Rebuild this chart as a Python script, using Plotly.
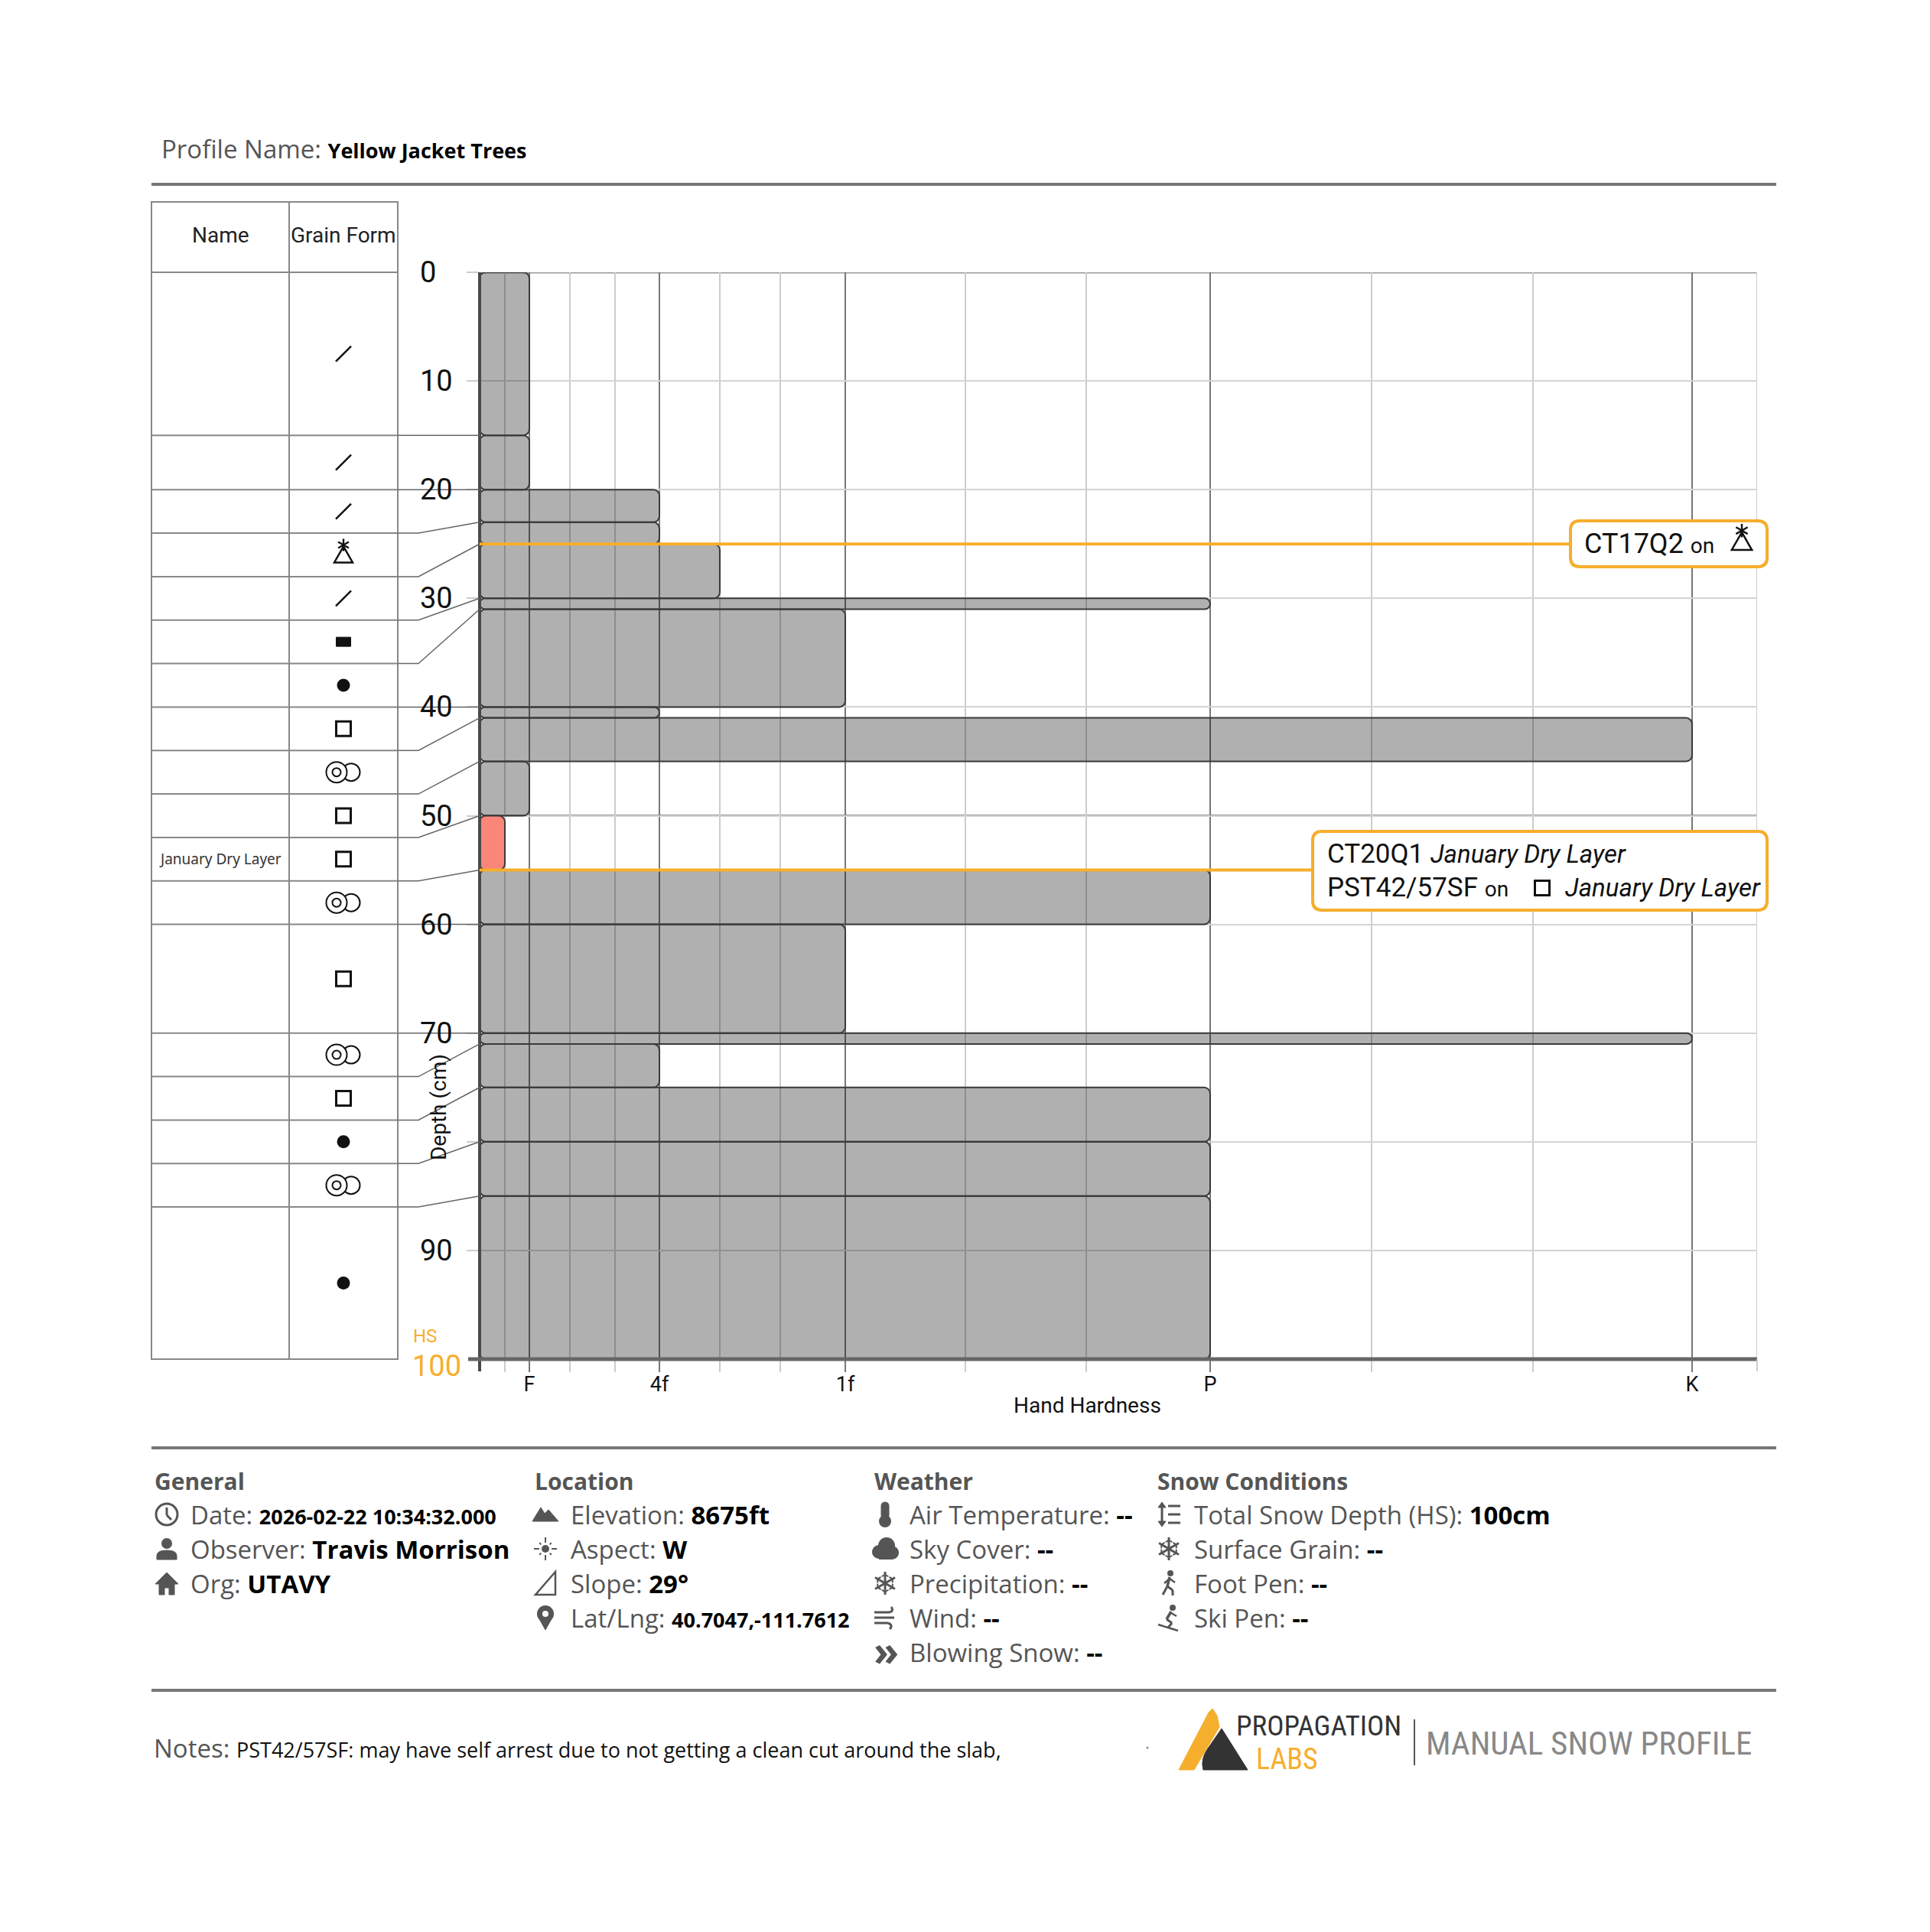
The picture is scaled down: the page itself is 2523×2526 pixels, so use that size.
import math
import plotly.graph_objects as go

# ---- snow profile layers (depth from surface, cm) ----
LAYER_TOP = [0, 15, 20, 23, 25, 30, 31, 40, 41, 45, 50, 55, 60, 70, 71, 75, 80, 85]
LAYER_BOTTOM = [15, 20, 23, 25, 30, 31, 40, 41, 45, 50, 55, 60, 70, 71, 75, 80, 85, 100]
LAYER_HARDNESS = ["F", "F", "4F", "4F", "4F+", "P", "1F", "4F", "K", "F", "F-", "P",
                  "1F", "K", "4F", "P", "P", "P"]
LAYER_GRAIN = ["DF", "DF", "DF", "SH", "DF", "IF", "RG", "FC", "MF", "FC", "FC", "MF",
               "FC", "MF", "FC", "RG", "MF", "RG"]
LAYER_NAME = ["", "", "", "", "", "", "", "", "", "", "January Dry Layer", "",
              "", "", "", "", "", ""]
LAYER_CONCERN = [False] * 10 + [True] + [False] * 7

# hand hardness scale (axis units)
HARDNESS_CODES = ["F-", "F", "F+", "4F-", "4F", "4F+", "1F-", "1F", "1F+",
                  "P-", "P", "P+", "K-", "K"]
HARDNESS_POS = [33, 65, 118, 177, 235, 314, 393, 478, 635, 793, 955, 1166, 1377, 1585]
HARDNESS_MAJOR = ["F", "4F", "1F", "P", "K"]
HARDNESS_MAJOR_TEXT = ["F", "4f", "1f", "P", "K"]
HARDNESS_MAX = 1670

DEPTH_TICKS = [0, 10, 20, 30, 40, 50, 60, 70, 80, 90]
DEPTH_LABELS = [0, 10, 20, 30, 40, 50, 60, 70, 90]   # 80 is hidden behind the axis title
TOTAL_DEPTH = 100

# stability tests
TEST_DEPTH = [25, 55]

PROFILE_NAME = "Yellow Jacket Trees"
NOTES = "PST42/57SF: may have self arrest due to not getting a clean cut around the slab,"

GENERAL_LABELS = ["Date:", "Observer:", "Org:"]
GENERAL_VALUES = ["2026-02-22 10:34:32.000", "Travis Morrison", "UTAVY"]
LOCATION_LABELS = ["Elevation:", "Aspect:", "Slope:", "Lat/Lng:"]
LOCATION_VALUES = ["8675ft", "W", "29°", "40.7047,-111.7612"]
WEATHER_LABELS = ["Air Temperature:", "Sky Cover:", "Precipitation:", "Wind:", "Blowing Snow:"]
WEATHER_VALUES = ["--", "--", "--", "--", "--"]
SNOW_LABELS = ["Total Snow Depth (HS):", "Surface Grain:", "Foot Pen:", "Ski Pen:"]
SNOW_VALUES = ["100cm", "--", "--", "--"]

# ---- page geometry (pixels) ----
W, H = 2523, 2526
OFF = 8  # page body margin
PLOT_L, PLOT_R, PLOT_T, PLOT_B = 627, 2297, 356, 1777
TAB_L, TAB_MID, TAB_R, TAB_T = 198, 378, 520, 264
ORANGE = "#f6ae2d"
ROBOTO = "Roboto"
SANS = "Open Sans"

hpos = dict(zip(HARDNESS_CODES, HARDNESS_POS))


def X(px):
    return (px - OFF) / W


def Y(py):
    return 1 - (py - OFF) / H


def depth_px(d):
    return PLOT_T + d * (PLOT_B - PLOT_T) / TOTAL_DEPTH


shapes = []
annotations = []


def line(x0, y0, x1, y1, color="#111", width=2):
    shapes.append(dict(type="line", xref="paper", yref="paper", x0=X(x0), y0=Y(y0),
                       x1=X(x1), y1=Y(y1), line=dict(color=color, width=width), layer="above"))


def circle(cx, cy, r, color="#111", fill=None, width=2):
    shapes.append(dict(type="circle", xref="paper", yref="paper", x0=X(cx - r), x1=X(cx + r),
                       y0=Y(cy + r), y1=Y(cy - r), fillcolor=fill or "rgba(0,0,0,0)",
                       line=dict(color=color, width=width if width else 0), layer="above"))


def rect(x0, y0, x1, y1, color="#111", fill=None, width=2):
    shapes.append(dict(type="rect", xref="paper", yref="paper", x0=X(x0), x1=X(x1),
                       y0=Y(y1), y1=Y(y0), fillcolor=fill or "rgba(0,0,0,0)",
                       line=dict(color=color, width=width), layer="above"))


def path(segs, color="#111", fill=None, width=2):
    parts = []
    for cmd, pts in segs:
        parts.append(cmd + " " + " ".join(f"{X(a):.6f},{Y(b):.6f}" for a, b in pts))
    shapes.append(dict(type="path", xref="paper", yref="paper", path=" ".join(parts),
                       fillcolor=fill or "rgba(0,0,0,0)",
                       line=dict(color=color, width=width), layer="above"))


def poly(pts, color="#111", fill=None, width=2, closed=True):
    segs = [("M", [pts[0]])] + [("L", [p]) for p in pts[1:]]
    if closed:
        segs.append(("Z", []))
    path(segs, color, fill, width)


def rrect(x0, y0, x1, y1, r, color, fill, width):
    path([("M", [(x0 + r, y0)]), ("L", [(x1 - r, y0)]), ("Q", [(x1, y0), (x1, y0 + r)]),
          ("L", [(x1, y1 - r)]), ("Q", [(x1, y1), (x1 - r, y1)]), ("L", [(x0 + r, y1)]),
          ("Q", [(x0, y1), (x0, y1 - r)]), ("L", [(x0, y0 + r)]),
          ("Q", [(x0, y0), (x0 + r, y0)]), ("Z", [])], color, fill, width)


def text(x, y, s, size, color="#111", family=ROBOTO, xanchor="left", yanchor="middle", angle=0):
    annotations.append(dict(x=X(x), y=Y(y), xref="paper", yref="paper", text=s, showarrow=False,
                            xanchor=xanchor, yanchor=yanchor, textangle=angle,
                            font=dict(size=size, color=color, family=family)))


def grain_symbol(code, cx, cy, k=1.0):
    if code == "DF":
        line(cx - 10 * k, cy + 10 * k, cx + 10 * k, cy - 10 * k, "#111", 2.5)
    elif code == "SH":
        poly([(cx, cy - 11 * k), (cx + 12 * k, cy + 10 * k), (cx - 12 * k, cy + 10 * k)],
             "#111", None, 2.5)
        ax, ay, r = cx, cy - 13 * k, 8 * k
        for ang in (90, 30, 150):
            dx, dy = r * math.cos(math.radians(ang)), r * math.sin(math.radians(ang))
            line(ax - dx, ay - dy, ax + dx, ay + dy, "#111", 2.4)
    elif code == "FC":
        rect(cx - 9.5 * k, cy - 9.5 * k, cx + 9.5 * k, cy + 9.5 * k, "#111", None, 3)
    elif code == "RG":
        circle(cx, cy, 8.5, "#111", "#111", 0)
    elif code == "IF":
        rect(cx - 9.5, cy - 6, cx + 9.5, cy + 6, "#111", "#111", 1)
    elif code == "MF":
        circle(cx + 10, cy, 11.5, "#111", "white", 2)
        circle(cx - 9, cy, 13.5, "#111", "white", 2)
        circle(cx - 9, cy, 5.5, "#111", None, 2)


# ---- icons for the footer ----
IC = "#555"


def icon(kind, cx, cy):
    if kind == "clock":
        circle(cx, cy, 14, IC, None, 3)
        line(cx, cy - 9, cx, cy + 1, IC, 3)
        line(cx, cy + 1, cx + 6, cy + 7, IC, 3)
    elif kind == "person":
        circle(cx, cy - 7, 7, IC, IC, 0)
        path([("M", [(cx - 13, cy + 14)]), ("L", [(cx - 13, cy + 9)]),
              ("Q", [(cx - 13, cy + 2), (cx, cy + 2)]), ("Q", [(cx + 13, cy + 2), (cx + 13, cy + 9)]),
              ("L", [(cx + 13, cy + 14)]), ("Z", [])], IC, IC, 1)
    elif kind == "house":
        poly([(cx - 15, cy + 1), (cx, cy - 14), (cx + 15, cy + 1), (cx + 10, cy + 1), (cx + 10, cy + 15),
              (cx + 3, cy + 15), (cx + 3, cy + 6), (cx - 3, cy + 6), (cx - 3, cy + 15),
              (cx - 10, cy + 15), (cx - 10, cy + 1)], IC, IC, 1)
    elif kind == "mountain":
        poly([(cx - 17, cy + 9), (cx - 6, cy - 9), (cx - 1, cy - 1), (cx + 4, cy - 6),
              (cx + 17, cy + 9)], IC, IC, 1)
    elif kind == "sun":
        circle(cx, cy, 5, IC, IC, 0)
        for a in range(0, 360, 45):
            ca, sa = math.cos(math.radians(a)), math.sin(math.radians(a))
            r1 = 15 if a % 90 == 0 else 11
            line(cx + 8 * ca, cy + 8 * sa, cx + r1 * ca, cy + r1 * sa, IC, 2)
    elif kind == "slope":
        poly([(cx + 13, cy - 15), (cx + 13, cy + 15), (cx - 13, cy + 15)], IC, None, 2.5)
    elif kind == "pin":
        poly([(cx - 10, cy - 2), (cx + 10, cy - 2), (cx, cy + 16)], IC, IC, 1)
        circle(cx, cy - 5, 11, IC, IC, 0)
        circle(cx, cy - 5, 4, "white", "white", 0)
    elif kind == "thermo":
        rrect(cx - 5, cy - 16, cx + 5, cy + 6, 5, IC, IC, 1)
        circle(cx, cy + 9, 8, IC, IC, 0)
    elif kind == "cloud":
        circle(cx - 8, cy + 4, 9, IC, IC, 0)
        circle(cx + 2, cy - 4, 11, IC, IC, 0)
        circle(cx + 9, cy + 5, 9, IC, IC, 0)
        rect(cx - 8, cy + 4, cx + 9, cy + 14, IC, IC, 0)
    elif kind == "flake":
        for a in (90, 30, 150):
            ca, sa = 15 * math.cos(math.radians(a)), 15 * math.sin(math.radians(a))
            line(cx - ca, cy - sa, cx + ca, cy + sa, IC, 3)
            for sgn in (1, -1):
                ex, ey = cx + sgn * ca * 0.75, cy + sgn * sa * 0.75
                for t in (60, -60):
                    b = math.radians(a + (0 if sgn > 0 else 180) + 180 + t)
                    line(ex, ey, ex + 5 * math.cos(b), ey + 5 * math.sin(b), IC, 2)
    elif kind == "wind":
        line(cx - 14, cy - 7, cx + 6, cy - 7, IC, 3)
        line(cx - 14, cy, cx + 12, cy, IC, 3)
        line(cx - 14, cy + 7, cx + 4, cy + 7, IC, 3)
        path([("M", [(cx + 6, cy - 7)]), ("Q", [(cx + 12, cy - 9), (cx + 8, cy - 14)])], IC, None, 3)
        path([("M", [(cx + 4, cy + 7)]), ("Q", [(cx + 11, cy + 10), (cx + 6, cy + 15)])], IC, None, 3)
    elif kind == "blow":
        text(cx + 1, cy - 3, "<b>»</b>", 54, IC, SANS, "center")
    elif kind == "depth":
        line(cx - 9, cy - 12, cx - 9, cy + 12, IC, 3)
        poly([(cx - 14, cy - 9), (cx - 9, cy - 16), (cx - 4, cy - 9)], IC, IC, 1)
        poly([(cx - 14, cy + 9), (cx - 9, cy + 16), (cx - 4, cy + 9)], IC, IC, 1)
        for dy in (-11, 0, 11):
            line(cx - 1, cy + dy, cx + 15, cy + dy, IC, 3)
    elif kind == "walker":
        circle(cx + 2, cy - 13, 4, IC, IC, 0)
        line(cx + 1, cy - 8, cx - 2, cy + 4, IC, 3.5)
        line(cx - 2, cy + 4, cx - 8, cy + 15, IC, 3)
        line(cx - 2, cy + 4, cx + 5, cy + 9, IC, 3)
        line(cx + 5, cy + 9, cx + 5, cy + 16, IC, 3)
        line(cx + 1, cy - 6, cx - 6, cy, IC, 2.5)
        line(cx + 1, cy - 6, cx + 8, cy - 1, IC, 2.5)
    elif kind == "skier":
        circle(cx + 5, cy - 13, 4, IC, IC, 0)
        line(cx + 3, cy - 8, cx - 3, cy + 2, IC, 3.5)
        line(cx - 3, cy + 2, cx + 4, cy + 7, IC, 3)
        line(cx + 4, cy + 7, cx - 1, cy + 13, IC, 3)
        line(cx + 3, cy - 6, cx + 10, cy - 2, IC, 2.5)
        line(cx - 14, cy + 9, cx + 12, cy + 17, IC, 2.5)


# ---- snow layer bars ----
mid = [(t + b) / 2 for t, b in zip(LAYER_TOP, LAYER_BOTTOM)]
thick = [b - t for t, b in zip(LAYER_TOP, LAYER_BOTTOM)]
hard = [hpos[h] for h in LAYER_HARDNESS]
colors = ["rgba(250,128,114,0.95)" if c else "rgba(0,0,0,0.31)" for c in LAYER_CONCERN]

fig = go.Figure(go.Bar(
    y=mid, x=hard, width=thick, base=0, orientation="h",
    marker=dict(color=colors, line=dict(color="#3a3a3a", width=2), cornerradius=8),
    hoverinfo="skip",
))

major_vals = [hpos[c] for c in HARDNESS_MAJOR]
minor_vals = [hpos[c] for c in HARDNESS_CODES if c not in HARDNESS_MAJOR]

fig.update_xaxes(
    domain=[X(PLOT_L), X(PLOT_R)], range=[0, HARDNESS_MAX], anchor="y", automargin=False,
    tickmode="array", tickvals=major_vals, ticktext=HARDNESS_MAJOR_TEXT,
    ticks="outside", ticklen=16, tickwidth=2, tickcolor="#777",
    showgrid=True, gridcolor="#777", gridwidth=2, zeroline=False, showline=False,
    tickfont=dict(size=27, color="#111", family=ROBOTO), ticklabelstandoff=-7,
    minor=dict(tickmode="array", tickvals=minor_vals, ticks="outside", ticklen=16,
               tickwidth=2, tickcolor="#cccccc", showgrid=True, gridcolor="#cccccc", gridwidth=2),
)
fig.update_yaxes(
    domain=[Y(PLOT_B), Y(PLOT_T)], range=[TOTAL_DEPTH, 0], anchor="x", automargin=False,
    tickmode="array", tickvals=DEPTH_TICKS, showticklabels=False,
    ticks="outside", ticklen=16, tickwidth=2, tickcolor="#cccccc",
    showgrid=True, gridcolor="#d4d4d4", gridwidth=2, zeroline=False, showline=False,
)

# depth labels, left aligned like the original
for d in DEPTH_LABELS:
    annotations.append(dict(x=X(547), xref="paper", y=d, yref="y", text=str(d), showarrow=False,
                            xanchor="left", yanchor="middle",
                            font=dict(size=38, color="#111", family=ROBOTO)))

# darker reference lines at surface and 50 cm
for d in (0, 50):
    shapes.append(dict(type="line", xref="x", yref="y", x0=0, x1=HARDNESS_MAX, y0=d, y1=d,
                       line=dict(color="#9a9a9a", width=3), layer="below"))
shapes.append(dict(type="line", xref="x", yref="y", x0=HARDNESS_MAX, x1=HARDNESS_MAX, y0=0,
                   y1=TOTAL_DEPTH, line=dict(color="#cccccc", width=2), layer="below"))

# axis frame
line(PLOT_L, PLOT_T, PLOT_L, PLOT_B + 16, "#4a4a4a", 4)
line(PLOT_L - 15, PLOT_B, PLOT_R, PLOT_B, "#666", 5)
line(PLOT_R, PLOT_B, PLOT_R, PLOT_B + 16, "#cccccc", 2)

# stability test lines and boxes
BOX = [(2053, 681, 2310, 741), (1716, 1087, 2310, 1190)]
for d, (bx0, by0, bx1, by1) in zip(TEST_DEPTH, BOX):
    shapes.append(dict(type="line", xref="x", yref="y", x0=0, x1=bx0 - PLOT_L, y0=d, y1=d,
                       line=dict(color=ORANGE, width=4), layer="above"))
    rrect(bx0, by0, bx1, by1, 12, ORANGE, "white", 4)

text(2069, 711, "CT17Q2 <span style='font-size:28px'>on</span>", 36)
grain_symbol("SH", 2277, 708, 1.1)
text(1733, 1117, "CT20Q1 <span style='font-size:33px'><i>January Dry Layer</i></span>", 35)
text(1733, 1161, "PST42/57SF <span style='font-size:28px'>on</span>", 35)
grain_symbol("FC", 2016, 1161)
text(2044, 1161, "<i>January Dry Layer</i>", 33)

# axis titles and HS label
text(1421, 1837, "Hand Hardness", 28, "#111", ROBOTO, "center")
text(573, 1448, "Depth (cm)", 28, "#111", ROBOTO, "center", "middle", -90)
text(538, 1747, "HS", 24, ORANGE)
text(537, 1786, str(TOTAL_DEPTH), 38, ORANGE)

# ---- grain table ----
rect(TAB_L, TAB_T, TAB_R, PLOT_B, "#888", None, 2)
line(TAB_MID, TAB_T, TAB_MID, PLOT_B, "#888", 2)
line(TAB_L, PLOT_T, TAB_R, PLOT_T, "#888", 2)
text((TAB_L + TAB_MID) / 2, 308, "Name", 28, "#222", ROBOTO, "center")
text((TAB_MID + TAB_R) / 2, 308, "Grain Form", 28, "#222", ROBOTO, "center")

MIN_ROW = 4  # cm
row_start = 0
for i, (t, b) in enumerate(zip(LAYER_TOP, LAYER_BOTTOM)):
    row_end = max(b, row_start + MIN_ROW)
    if i == len(LAYER_TOP) - 1:
        row_end = TOTAL_DEPTH
    y0, y1 = depth_px(row_start), depth_px(row_end)
    cy = (y0 + y1) / 2
    grain_symbol(LAYER_GRAIN[i], (TAB_MID + TAB_R) / 2, cy)
    if LAYER_NAME[i]:
        text((TAB_L + TAB_MID) / 2, cy, LAYER_NAME[i], 19, "#333", "Noto Sans", "center")
    if i < len(LAYER_TOP) - 1:
        line(TAB_L, y1, TAB_R, y1, "#888", 2)
        poly([(TAB_R, y1), (547, y1), (PLOT_L, depth_px(b))], "#666", None, 1.5, closed=False)
    row_start = row_end

# ---- header ----
line(198, 241, 2322, 241, "#777", 4)
text(209, 194, "Profile Name: <span style='font-size:27px;color:#000'><b>" + PROFILE_NAME +
     "</b></span>", 33, "#555", SANS)

# ---- footer ----
line(198, 1893, 2322, 1893, "#777", 4)
line(198, 2210, 2322, 2210, "#777", 4)

ROW_Y = [1980, 2025, 2070, 2115, 2160]
columns = [
    ("General", 200, 218, 247, GENERAL_LABELS, GENERAL_VALUES, [27, 33, 33],
     ["clock", "person", "house"]),
    ("Location", 697, 713, 744, LOCATION_LABELS, LOCATION_VALUES, [33, 33, 33, 27],
     ["mountain", "sun", "slope", "pin"]),
    ("Weather", 1141, 1157, 1187, WEATHER_LABELS, WEATHER_VALUES, [33] * 5,
     ["thermo", "cloud", "flake", "wind", "blow"]),
    ("Snow Conditions", 1511, 1528, 1559, SNOW_LABELS, SNOW_VALUES, [33] * 4,
     ["depth", "flake", "walker", "skier"]),
]
for head, hx, ix, tx, labels, values, vsizes, icons in columns:
    text(hx, 1936, "<b>" + head + "</b>", 30, "#555", SANS)
    for j, (lab, val) in enumerate(zip(labels, values)):
        icon(icons[j], ix, ROW_Y[j])
        text(tx, ROW_Y[j], lab + " <span style='font-size:%dpx;color:#000'><b>%s</b></span>"
             % (vsizes[j], val), 33, "#555", SANS)

text(199, 2285, "Notes: <span style='font-size:27px;color:#111'>" + NOTES + "</span>", 33,
     "#555", SANS)

# logo
circle(1500, 2285, 1.5, "#888", "#888", 0)
poly([(1541, 2314), (1580, 2239), (1585, 2234), (1591, 2243), (1594, 2258), (1561, 2314)],
     ORANGE, ORANGE, 1)
path([("M", [(1573, 2314)]), ("Q", [(1569, 2300), (1579, 2286)]), ("L", [(1597, 2260)]),
      ("L", [(1631, 2314)]), ("Z", [])], "#333", "#333", 1)
COND = "Roboto Condensed, Liberation Sans Narrow, DejaVu Sans Condensed, Roboto"
text(1614, 2256, "PROPAGATION", 37, "#333", COND)
text(1640, 2300, "LABS", 38, ORANGE, COND)
line(1849, 2248, 1849, 2308, "#555", 2)
text(1862, 2279, "MANUAL SNOW PROFILE", 43, "#888", COND)

fig.update_layout(
    width=W, height=H, autosize=False, margin=dict(l=0, r=0, t=0, b=0, pad=0),
    paper_bgcolor="white", plot_bgcolor="white", showlegend=False,
    shapes=shapes, annotations=annotations,
)

fig.write_html("out.html")
